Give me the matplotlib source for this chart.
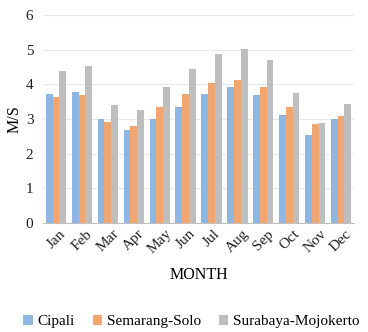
import numpy as np
import matplotlib.pyplot as plt

months = ['Jan', 'Feb', 'Mar', 'Apr', 'May', 'Jun', 'Jul', 'Aug', 'Sep', 'Oct', 'Nov', 'Dec']
cipali = [3.71, 3.78, 2.99, 2.67, 2.99, 3.34, 3.71, 3.91, 3.69, 3.12, 2.54, 3.01]
semarang_solo = [3.64, 3.69, 2.91, 2.81, 3.34, 3.71, 4.05, 4.12, 3.91, 3.34, 2.86, 3.08]
surabaya_mojokerto = [4.39, 4.53, 3.40, 3.25, 3.91, 4.44, 4.87, 5.02, 4.71, 3.76, 2.89, 3.42]

plt.rcParams['font.family'] = ['Liberation Serif', 'DejaVu Serif']

fig = plt.figure(figsize=(3.68, 3.32), dpi=100)
ax = fig.add_axes([0.117, 0.328, 0.845, 0.627])

x = np.arange(len(months))
w = 0.26
ax.bar(x - w, cipali, w, color='#8DB6E2', label='Cipali')
ax.bar(x, semarang_solo, w, color='#F1A672', label='Semarang-Solo')
ax.bar(x + w, surabaya_mojokerto, w, color='#BEBEBE', label='Surabaya-Mojokerto')

ax.set_xlim(-0.5, 11.5)
ax.set_ylim(0, 6)
ax.set_yticks(range(7))
ax.yaxis.grid(True, color='#E8E8E8', linewidth=0.8)
ax.set_axisbelow(True)
for s in ['top', 'right', 'left']:
    ax.spines[s].set_visible(False)
ax.spines['bottom'].set_color('#BFBFBF')
ax.tick_params(length=0, labelsize=11, colors='#222222')
ax.tick_params(axis='y', pad=7)
ax.set_xticks(x)
ax.set_xticklabels(months, rotation=45, ha='center')
ax.tick_params(axis='x', pad=3)
ax.set_xlabel('MONTH', fontsize=11.5, labelpad=8)
ax.set_ylabel('M/S', fontsize=11.5, labelpad=2)

fig.legend(loc='lower center', bbox_to_anchor=(0.52, -0.03), ncol=3, frameon=False,
           fontsize=11, handlelength=0.6, handleheight=0.6, handletextpad=0.3, columnspacing=1.2)

fig.savefig('out.png', dpi=100)
